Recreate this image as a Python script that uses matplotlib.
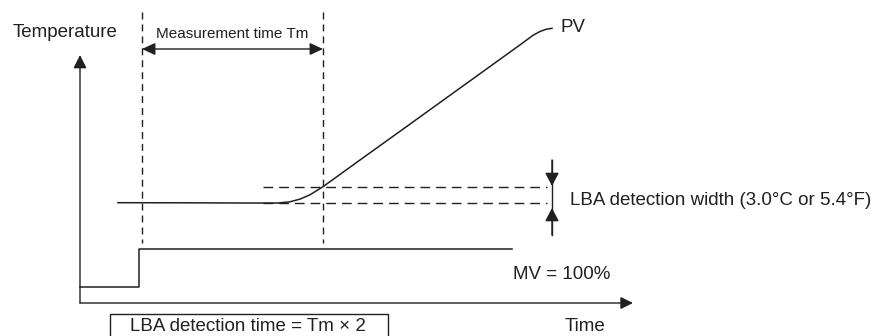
import matplotlib.pyplot as plt
from matplotlib.patches import Rectangle

plt.rcParams['font.family'] = ['Liberation Sans', 'DejaVu Sans']
ink = '#231f20'

# Schematic in drawing units (x = time to the right, y = downward like the figure)
# PV (process value) curve
pv_x = [118, 180, 240, 278, 290, 300, 310, 323, 360, 400, 440, 480, 520, 533, 540, 546, 552]
pv_y = [202.7, 202.8, 203.0, 203.0, 201.8, 199.1, 194.8, 186.7, 160.0, 131.3, 102.5, 73.7, 44.9, 35.3, 31.5, 29.3, 28.3]

# MV (manipulated value) step
mv_x = [80, 139, 139, 512]
mv_y = [287, 287, 249, 249]

# measurement window and LBA band
tm_start, tm_end = 142, 323
band_top, band_bottom = 186.7, 203.0
band_x = [263, 547]

fig = plt.figure(figsize=(8.81, 3.36), dpi=100)
ax = fig.add_axes([0, 0, 1, 1])
ax.set_xlim(0, 881)
ax.set_ylim(336, 0)
ax.axis('off')

head = dict(color=ink, lw=1.0, shrinkA=0, shrinkB=0)

# axes with arrows
ax.annotate('', xy=(80, 55), xytext=(80, 303),
            arrowprops=dict(arrowstyle='-|>,head_length=0.8,head_width=0.4', **head))
ax.annotate('', xy=(633, 303), xytext=(80, 303),
            arrowprops=dict(arrowstyle='-|>,head_length=0.75,head_width=0.37', **head))

# curves
ax.plot(pv_x, pv_y, color=ink, lw=1.1)
ax.plot(mv_x, mv_y, color=ink, lw=1.1)

# dashed guides
for xv in (tm_start, tm_end):
    ax.plot([xv, xv], [12, 243], color=ink, lw=1.0, dashes=(5, 3.6))
for yv in (band_top, band_bottom):
    ax.plot(band_x, [yv, yv], color=ink, lw=1.0, dashes=(7, 4.3))

# measurement time arrow
ax.annotate('', xy=(tm_start, 49), xytext=(tm_end, 49),
            arrowprops=dict(arrowstyle='<|-|>,head_length=0.8,head_width=0.37', **head))

# LBA width arrows
ax.plot([552, 552], [160, 235], color=ink, lw=1.0)
ax.annotate('', xy=(552, 186), xytext=(552, 160),
            arrowprops=dict(arrowstyle='-|>,head_length=0.8,head_width=0.42', **head))
ax.annotate('', xy=(552, 208), xytext=(552, 235),
            arrowprops=dict(arrowstyle='-|>,head_length=0.8,head_width=0.42', **head))

# texts
fs = 13.5
ax.text(13, 37, 'Temperature', fontsize=fs, color=ink, va='baseline')
ax.text(232, 38, 'Measurement time Tm', fontsize=11, color=ink, va='baseline', ha='center')
ax.text(561, 32, 'PV', fontsize=fs, color=ink, va='baseline')
ax.text(570, 205, 'LBA detection width (3.0°C or 5.4°F)', fontsize=fs, color=ink, va='baseline')
ax.text(513, 279, 'MV = 100%', fontsize=fs, color=ink, va='baseline')
ax.text(565, 331, 'Time', fontsize=fs, color=ink, va='baseline')

ax.add_patch(Rectangle((110, 314), 278, 30, fill=False, edgecolor=ink, lw=1.0))
ax.text(130, 331, 'LBA detection time = Tm × 2', fontsize=fs, color=ink, va='baseline')

plt.savefig('out.png', dpi=100)
